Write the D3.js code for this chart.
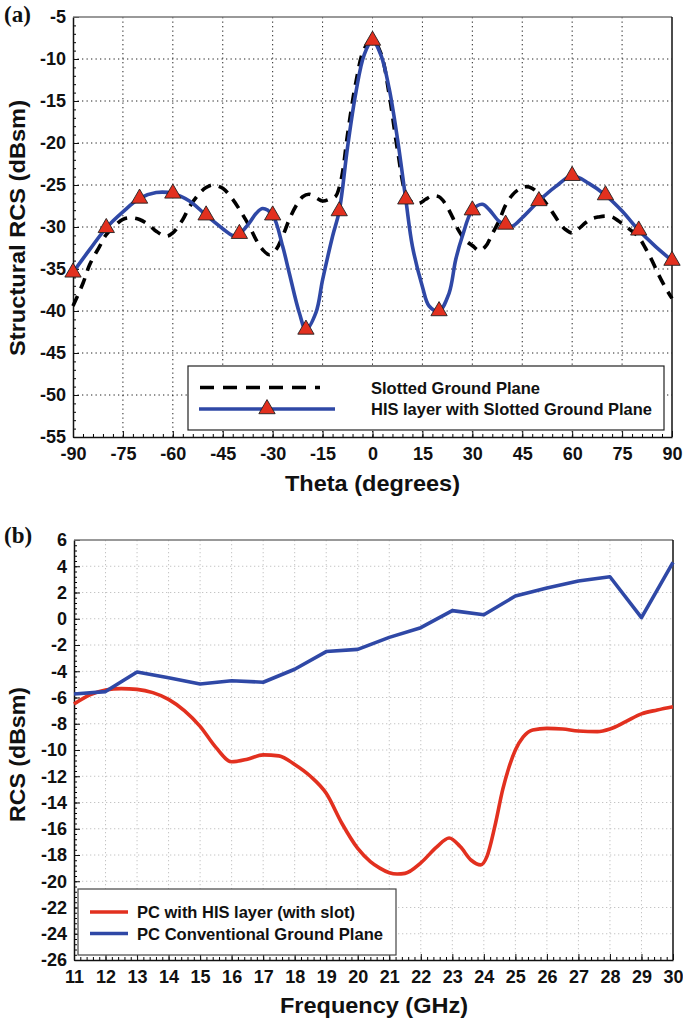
<!DOCTYPE html>
<html>
<head>
<meta charset="utf-8">
<script src="https://cdn.jsdelivr.net/npm/d3@7"></script>
<style>
  body { margin: 0; background: #fff; }
  svg { display: block; font-family: "Liberation Sans", Arial, sans-serif; }
</style>
</head>
<body>
<div id="chart"></div>
<script>
// ---- panel (a): structural RCS vs theta ----
const thetaTicks = [-90, -75, -60, -45, -30, -15, 0, 15, 30, 45, 60, 75, 90];
const rcsTicksA = [-55, -50, -45, -40, -35, -30, -25, -20, -15, -10, -5];

const slottedTheta = [-90,-87,-85,-82,-80,-77,-75,-73,-70,-67,-65,-62,-60,-57,-55,-52,-50,-48,-45,-42,
  -40,-37,-35,-33,-31,-29,-27,-25,-23,-21,-19,-17,-15,-13,-11,-10,-9,-7.5,-5,-2.5,
  0,2.5,5,7.5,10,12,14,16,18,20,22,24,26,28,30,32,34,36,38,40,42,44,46,48,50,52,54,56,58,60,
  62,64,66,68,70,72,74,76,78,80,82,84,86,88,90];
const slottedRcs = [-39.4,-36.7,-34.5,-32.3,-30.9,-29.7,-29.1,-28.9,-29.1,-29.8,-30.5,-31.1,-30.7,-29.1,-27.6,-26.0,-25.3,-25.0,-25.4,-26.7,
  -27.9,-29.9,-31.5,-32.7,-33.3,-32.7,-31.1,-29.1,-27.5,-26.4,-26.1,-26.5,-26.9,-26.7,-26.3,-25.3,-23.5,-19.0,-12.8,-8.8,
  -7.7,-9.3,-14.2,-20.8,-26.0,-27.1,-27.2,-26.7,-26.3,-26.4,-27.3,-28.8,-30.5,-31.6,-32.2,-32.8,-32.3,-30.8,-29.3,-27.4,
  -26.2,-25.5,-25.2,-25.4,-26.1,-27.1,-28.2,-29.4,-30.3,-30.7,-30.2,-29.5,-29.0,-28.8,-28.7,-28.8,-29.3,-29.9,-30.5,-31.2,
  -32.5,-34.0,-35.7,-37.2,-38.5];

const hisTheta = [-90,-85,-80,-75,-70,-65,-60,-55,-50,-45,-42,-40,-37,-35,-33,-30,-27,-25,-22,-20,
  -17,-15,-12,-10,-7.5,-5,-2.5,0,2.5,5,7.5,10,12,15,17,20,23,25,27,30,
  33,35,38,40,42,45,50,55,60,65,70,75,80,85,90];
const hisRcs = [-35.4,-32.7,-30.1,-28.2,-26.6,-25.9,-26.0,-26.9,-28.6,-30.2,-31.0,-30.8,-29.5,-28.4,-27.8,-28.6,-32.3,-35.5,-40.2,-42.2,
  -40.2,-36.3,-31.1,-28.1,-20.5,-14.0,-9.5,-7.8,-9.5,-13.5,-19.5,-26.7,-32.3,-37.1,-39.4,-40.0,-37.9,-33.9,-31.1,-28.0,
  -27.3,-27.9,-29.3,-29.7,-29.9,-28.9,-26.9,-25.2,-23.9,-24.8,-26.2,-28.1,-30.4,-32.3,-34.0];
const markerTheta = [-90,-80,-70,-60,-50,-40,-30,-20,-10,0,10,20,30,40,50,60,70,80,90];

// ---- panel (b): RCS vs frequency ----
const freqTicks = d3.range(11, 31);
const rcsTicksB = d3.range(-26, 7, 2);

const convFreq = [11,12,13,14,15,16,17,18,19,20,21,22,23,24,25,26,27,28,29,30];
const convRcs = [-5.73,-5.55,-4.06,-4.5,-4.97,-4.72,-4.84,-3.85,-2.5,-2.33,-1.42,-0.68,0.62,0.31,1.73,2.34,2.87,3.2,0.08,4.3];

const hisFreq = [11,11.5,12,12.5,13,13.5,14,14.5,15,15.5,16,16.5,17,17.5,18,18.5,19,19.5,20,20.4,
  20.7,21,21.25,21.5,22,22.5,22.9,23.25,23.6,23.9,24.1,24.35,24.6,24.8,25,25.25,25.55,26,26.5,27,
  27.6,28,28.5,29,29.5,30];
const hisFreqRcs = [-6.5,-5.8,-5.43,-5.32,-5.38,-5.63,-6.14,-7.0,-8.2,-9.8,-10.9,-10.7,-10.37,-10.45,-11.1,-12.0,-13.3,-15.6,-17.5,-18.5,
  -19.0,-19.35,-19.45,-19.4,-18.6,-17.4,-16.7,-17.36,-18.4,-18.75,-18.1,-15.8,-13.0,-11.3,-10.0,-9.0,-8.47,-8.35,-8.4,-8.55,
  -8.6,-8.4,-7.84,-7.25,-6.95,-6.7];

const BLUE = "#2f48a6", RED = "#e2301f";
const W = 683, H = 1026;

const svg = d3.select("#chart").append("svg").attr("width", W).attr("height", H);

// bold text stretched to the width it has in the picture
function label(parent, txt, x, y, len, size, rotate) {
  const t = parent.append("text")
    .attr("transform", `translate(${x},${y})` + (rotate ? " rotate(-90)" : ""))
    .attr("font-size", size).attr("font-weight", "bold").attr("fill", "#111")
    .attr("textLength", len).attr("lengthAdjust", "spacingAndGlyphs")
    .text(txt);
  return t;
}

function panel(opt) {
  const { x, y, xMajor, yMajor, xMinor, yMinor, gridColor, gridDash } = opt;
  const [x0, x1] = x.range();
  const [y0, y1] = y.range(); // y0 bottom, y1 top
  const g = svg.append("g");

  // grid
  const grid = g.append("g").attr("stroke", gridColor).attr("stroke-width", 1).attr("stroke-dasharray", gridDash);
  grid.selectAll("line.v").data(xMajor.slice(1, -1)).enter().append("line")
    .attr("x1", d => x(d)).attr("x2", d => x(d)).attr("y1", y1).attr("y2", y0);
  grid.selectAll("line.h").data(yMajor.slice(1, -1)).enter().append("line")
    .attr("x1", x0).attr("x2", x1).attr("y1", d => y(d)).attr("y2", d => y(d));

  // minor ticks
  g.append("g").attr("transform", `translate(0,${y0})`)
    .call(d3.axisBottom(x).tickValues(xMinor).tickSize(-3).tickSizeOuter(0).tickFormat(""))
    .call(a => a.select(".domain").remove());
  g.append("g").attr("transform", `translate(${x0},0)`)
    .call(d3.axisLeft(y).tickValues(yMinor).tickSize(-3).tickSizeOuter(0).tickFormat(""))
    .call(a => a.select(".domain").remove());

  // major axes
  const ax = g.append("g").attr("transform", `translate(0,${y0})`)
    .call(d3.axisBottom(x).tickValues(xMajor).tickSize(-6).tickSizeOuter(0).tickPadding(10).tickFormat(d => String(d)));
  const ay = g.append("g").attr("transform", `translate(${x0},0)`)
    .call(d3.axisLeft(y).tickValues(yMajor).tickSize(-6).tickSizeOuter(0).tickPadding(7).tickFormat(d => String(d)));
  [ax, ay].forEach(a => {
    a.selectAll("text").attr("font-size", 18).attr("font-weight", "bold").attr("fill", "#111");
    a.selectAll("line").attr("stroke", "#111");
    a.select(".domain").attr("stroke", "#111").attr("stroke-width", 1.5);
  });

  // frame
  g.append("line").attr("x1", x0).attr("x2", x1).attr("y1", y1).attr("y2", y1).attr("stroke", "#777").attr("stroke-width", 1.5);
  g.append("line").attr("x1", x1).attr("x2", x1).attr("y1", y1).attr("y2", y0).attr("stroke", "#111").attr("stroke-width", 1.5);
  return g;
}

// ---------- panel (a) ----------
const xa = d3.scaleLinear().domain([-90, 90]).range([73, 672]);
const ya = d3.scaleLinear().domain([-55, -5]).range([437, 17]);
const ga = panel({
  x: xa, y: ya, xMajor: thetaTicks, yMajor: rcsTicksA,
  xMinor: d3.range(-90, 91, 3), yMinor: d3.range(-55, -4, 1),
  gridColor: "#222", gridDash: "1.3,3.2"
});

const slotted = slottedTheta.map((t, i) => ({ t, v: slottedRcs[i] }));
const his = hisTheta.map((t, i) => ({ t, v: hisRcs[i] }));
const lineA = d3.line().x(d => xa(d.t)).y(d => ya(d.v)).curve(d3.curveCatmullRom.alpha(0.5));

ga.append("path").datum(slotted).attr("d", lineA).attr("fill", "none")
  .attr("stroke", "#000").attr("stroke-width", 3.6).attr("stroke-dasharray", "11,8");
ga.append("path").datum(his).attr("d", lineA).attr("fill", "none")
  .attr("stroke", BLUE).attr("stroke-width", 3.6);

const tri = d3.symbol().type(d3.symbolTriangle).size(115);
ga.selectAll("path.mk").data(his.filter(d => markerTheta.includes(d.t))).enter().append("path")
  .attr("class", "mk").attr("d", tri)
  .attr("transform", d => `translate(${xa(d.t)},${ya(d.v)})`)
  .attr("fill", RED).attr("stroke", "#222").attr("stroke-width", 0.9);

// legend (a)
const la = ga.append("g");
la.append("rect").attr("x", 188).attr("y", 366).attr("width", 476).attr("height", 64)
  .attr("fill", "#fff").attr("stroke", "#222").attr("stroke-width", 1.2);
la.append("line").attr("x1", 200).attr("x2", 320).attr("y1", 387.5).attr("y2", 387.5)
  .attr("stroke", "#000").attr("stroke-width", 3.6).attr("stroke-dasharray", "14,9");
la.append("line").attr("x1", 199).attr("x2", 335).attr("y1", 409).attr("y2", 409)
  .attr("stroke", BLUE).attr("stroke-width", 3.6);
la.append("path").attr("d", tri).attr("transform", "translate(267,409)")
  .attr("fill", RED).attr("stroke", "#222").attr("stroke-width", 0.9);
label(la, "Slotted Ground Plane", 371, 393.5, 169, 17);
label(la, "HIS layer with Slotted Ground Plane", 371, 415, 281, 17);

label(svg, "Theta (degrees)", 285, 491, 175, 22);
label(svg, "Structural RCS (dBsm)", 25, 356, 256, 22, true);
svg.append("text").attr("x", 4).attr("y", 22).attr("font-family", "Liberation Serif, serif")
  .attr("font-size", 23).attr("font-weight", "bold").attr("fill", "#111").text("(a)");

// ---------- panel (b) ----------
const xb = d3.scaleLinear().domain([11, 30]).range([74, 673]);
const yb = d3.scaleLinear().domain([-26, 6]).range([960, 540]);
const gb = panel({
  x: xb, y: yb, xMajor: freqTicks, yMajor: rcsTicksB,
  xMinor: d3.range(0, 96).map(i => 11 + i * 0.2), yMinor: d3.range(0, 81).map(i => -26 + i * 0.4),
  gridColor: "#c4c4c4", gridDash: "1.3,2.7"
});

const conv = convFreq.map((f, i) => ({ f, v: convRcs[i] }));
const hisB = hisFreq.map((f, i) => ({ f, v: hisFreqRcs[i] }));
gb.append("path").datum(hisB)
  .attr("d", d3.line().x(d => xb(d.f)).y(d => yb(d.v)).curve(d3.curveMonotoneX))
  .attr("fill", "none").attr("stroke", RED).attr("stroke-width", 3.6);
gb.append("path").datum(conv)
  .attr("d", d3.line().x(d => xb(d.f)).y(d => yb(d.v)))
  .attr("fill", "none").attr("stroke", BLUE).attr("stroke-width", 3.6).attr("stroke-linejoin", "round");

// legend (b)
const lb = gb.append("g");
lb.append("rect").attr("x", 78).attr("y", 889).attr("width", 318).attr("height", 66)
  .attr("fill", "#fff").attr("stroke", "#444").attr("stroke-width", 1.2);
lb.selectAll("line").data([RED, BLUE]).enter().append("line")
  .attr("x1", 90).attr("x2", 128).attr("y1", (d, i) => 912 + i * 21.5).attr("y2", (d, i) => 912 + i * 21.5)
  .attr("stroke", d => d).attr("stroke-width", 3.6);
label(lb, "PC with HIS layer (with slot)", 137, 918, 218, 17);
label(lb, "PC Conventional Ground Plane", 137, 939.5, 246, 17);

label(svg, "Frequency (GHz)", 280, 1013, 188, 22);
label(svg, "RCS (dBsm)", 25, 822, 135, 22, true);
svg.append("text").attr("x", 4).attr("y", 543).attr("font-family", "Liberation Serif, serif")
  .attr("font-size", 23).attr("font-weight", "bold").attr("fill", "#111").text("(b)");
</script>
</body>
</html>
